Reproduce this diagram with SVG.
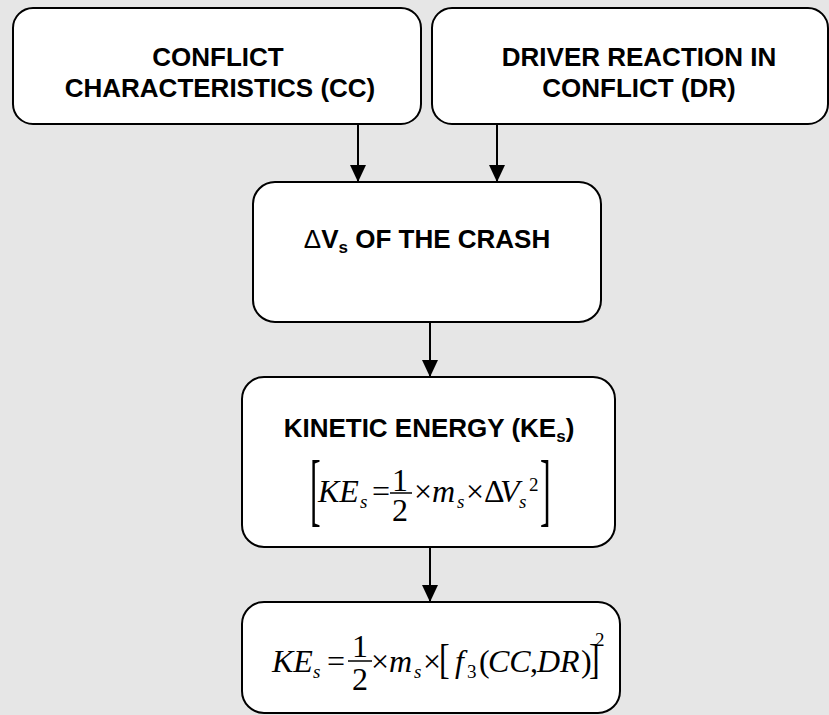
<svg xmlns="http://www.w3.org/2000/svg" width="829" height="715" viewBox="0 0 829 715">
<defs>
<style>
.box{fill:#ffffff;stroke:#000000;stroke-width:2}
.hd{font-family:"Liberation Sans",Arial,sans-serif;font-weight:bold;font-size:26px;fill:#000;text-anchor:middle}
.m{font-family:"Liberation Serif","Times New Roman",serif;font-size:32px;fill:#000}
.i{font-style:italic}
.sm{font-size:19px}
.conn{stroke:#000;stroke-width:2;fill:none}
.bar{stroke:#000;stroke-width:1.5}
</style>
<marker id="ah" markerUnits="userSpaceOnUse" markerWidth="18" markerHeight="18" refX="17" refY="8" orient="auto">
<path d="M0,0 L17,8 L0,16 Z" fill="#000"/>
</marker>
</defs>
<rect x="0" y="0" width="829" height="715" fill="#e6e6e6"/>

<g id="connectors">
<line class="conn" x1="358" y1="124" x2="358" y2="182" marker-end="url(#ah)"/>
<line class="conn" x1="497" y1="124" x2="497" y2="182" marker-end="url(#ah)"/>
<line class="conn" x1="430" y1="322" x2="430" y2="377" marker-end="url(#ah)"/>
<line class="conn" x1="430" y1="547" x2="430" y2="602" marker-end="url(#ah)"/>
</g>

<g id="cc">
<rect class="box" x="13" y="8" width="408" height="116" rx="20"/>
<text class="hd" x="218" y="66">CONFLICT</text>
<text class="hd" x="220" y="97">CHARACTERISTICS (CC)</text>
</g>

<g id="dr">
<rect class="box" x="432" y="8" width="396" height="116" rx="20"/>
<text class="hd" x="639" y="66">DRIVER REACTION IN</text>
<text class="hd" x="639" y="97">CONFLICT (DR)</text>
</g>

<g id="dv">
<rect class="box" x="253" y="182" width="348" height="140" rx="22"/>
<text class="hd" x="427" y="248"><tspan font-weight="normal">Δ</tspan>V<tspan font-size="17" dy="5">s</tspan><tspan dy="-5"> OF THE CRASH</tspan></text>
</g>

<g id="ke">
<rect class="box" x="242" y="377" width="373" height="170" rx="22"/>
<text class="hd" x="429" y="437">KINETIC ENERGY (KE<tspan font-size="17" dy="5">s</tspan><tspan dy="-5">)</tspan></text>
<text class="m" transform="translate(310,516) scale(1,2.5)">[</text>
<line class="bar" x1="390" y1="493" x2="412" y2="493"/>
<text class="m"><tspan class="i" x="318" y="502">KE</tspan><tspan class="i sm" x="360" y="508">s</tspan><tspan x="372" y="502">=</tspan><tspan x="392" y="491">1</tspan><tspan x="392" y="521">2</tspan><tspan x="414" y="502">×</tspan><tspan class="i" x="432" y="502">m</tspan><tspan class="i sm" x="457" y="508">s</tspan><tspan x="466" y="502">×</tspan><tspan x="484" y="502">Δ</tspan><tspan class="i" x="500" y="502">V</tspan><tspan class="i sm" x="519" y="508">s</tspan><tspan class="sm" x="529" y="491">2</tspan></text>
<text class="m" transform="translate(540,516) scale(1,2.5)">]</text>
</g>

<g id="ke-f3">
<rect class="box" x="242" y="602" width="378" height="111" rx="22"/>
<line class="bar" x1="348" y1="661" x2="372" y2="661"/>
<text class="m"><tspan class="i" x="272" y="672">KE</tspan><tspan class="i sm" x="313" y="678">s</tspan><tspan x="327" y="672">=</tspan><tspan x="352" y="657">1</tspan><tspan x="352" y="690">2</tspan><tspan x="371" y="672">×</tspan><tspan class="i" x="389" y="672">m</tspan><tspan class="i sm" x="414" y="678">s</tspan><tspan x="423" y="672">×</tspan></text>
<text class="m" transform="translate(439,673) scale(1,1.3)">[</text>
<text class="m"><tspan class="i" x="455" y="672">f</tspan><tspan class="sm" x="467" y="678">3</tspan><tspan x="479" y="672">(</tspan><tspan class="i" x="488" y="672">CC</tspan><tspan x="530" y="672">,</tspan><tspan class="i" x="537" y="672">DR</tspan><tspan x="581" y="672">)</tspan></text>
<text class="m" transform="translate(589,673) scale(1,1.3)">]</text>
<text class="m sm" x="595" y="646">2</text>
</g>
</svg>
